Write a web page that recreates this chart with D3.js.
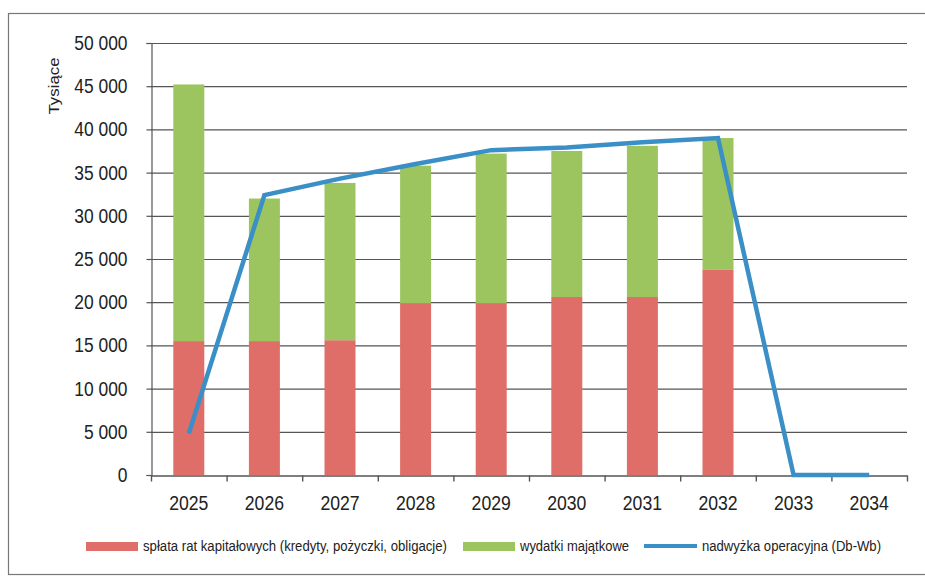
<!DOCTYPE html>
<html lang="pl">
<head>
<meta charset="utf-8">
<script src="https://cdn.jsdelivr.net/npm/d3@7"></script>
<style>
  html, body { margin: 0; padding: 0; background: #fff; }
  svg { display: block; }
  text { font-family: "Liberation Sans", Arial, sans-serif; fill: #222; }
</style>
</head>
<body>
<svg id="chart" width="925" height="578"></svg>
<script>
// Budget projection 2025–2034 (thousands of PLN)
const years = ["2025", "2026", "2027", "2028", "2029", "2030", "2031", "2032", "2033", "2034"];
const splata = [15500, 15500, 15600, 19900, 19900, 20600, 20600, 23800, 0, 0];
const wydatki = [29700, 16500, 18200, 15900, 17300, 16900, 17500, 15200, 0, 0];
const nadwyzka = [4800, 32400, 34300, 36000, 37600, 37900, 38500, 39000, 0, 0];
const yTicks = [0, 5000, 10000, 15000, 20000, 25000, 30000, 35000, 40000, 45000, 50000];
const seriesNames = [
  "spłata rat kapitałowych (kredyty, pożyczki, obligacje)",
  "wydatki majątkowe",
  "nadwyżka operacyjna (Db-Wb)"
];
const colors = ["#df6e69", "#9dc55f", "#3a8fc7"];

const svg = d3.select("#chart");
const plotLeft = 151, plotRight = 907, plotTop = 43, plotBottom = 475;

// narrow the glyphs horizontally (condensed look) keeping the anchor
function condense(sel, factor) {
  sel.each(function () {
    const w = this.getComputedTextLength();
    if (w > 0) {
      d3.select(this)
        .attr("textLength", (w * factor).toFixed(1))
        .attr("lengthAdjust", "spacingAndGlyphs");
    }
  });
}

// outer frame
svg.append("rect")
  .attr("x", 8.5).attr("y", 13.5)
  .attr("width", 940).attr("height", 561)
  .attr("fill", "none").attr("stroke", "#777").attr("stroke-width", 1.2);

const x = d3.scaleBand().domain(years).range([plotLeft, plotRight])
  .paddingInner(0.59).paddingOuter(0.295);
const y = d3.scaleLinear().domain([0, 50000]).range([plotBottom, plotTop]);
const edges = d3.scaleLinear().domain([0, years.length]).range([plotLeft, plotRight]);

const locale = d3.formatLocale({ thousands: " ", grouping: [3], decimal: ",", currency: ["", " zł"] });
const fmt = locale.format(",d");

// horizontal gridlines
svg.append("g")
  .selectAll("line")
  .data(yTicks.filter(v => v > 0))
  .join("line")
  .attr("x1", plotLeft).attr("x2", plotRight)
  .attr("y1", d => y(d) + 0.5).attr("y2", d => y(d) + 0.5)
  .attr("stroke", "#555").attr("stroke-width", 1.2);

// stacked bars
const stack = years.map((yr, i) => ({ yr, s: splata[i], w: wydatki[i] }));
const bars = svg.append("g");
bars.selectAll("rect.s")
  .data(stack.filter(d => d.s > 0))
  .join("rect").attr("class", "s")
  .attr("x", d => x(d.yr)).attr("width", x.bandwidth())
  .attr("y", d => y(d.s)).attr("height", d => y(0) - y(d.s))
  .attr("fill", colors[0]);
bars.selectAll("rect.w")
  .data(stack.filter(d => d.w > 0))
  .join("rect").attr("class", "w")
  .attr("x", d => x(d.yr)).attr("width", x.bandwidth())
  .attr("y", d => y(d.s + d.w)).attr("height", d => y(d.s) - y(d.s + d.w))
  .attr("fill", colors[1]);

// y axis
const yAxis = svg.append("g")
  .attr("transform", `translate(${plotLeft + 0.5},0)`)
  .call(d3.axisLeft(y).tickValues(yTicks).tickSize(5).tickPadding(19).tickFormat(fmt));
yAxis.select(".domain").attr("stroke", "#555").attr("stroke-width", 1.2);
yAxis.selectAll(".tick line").attr("stroke", "#555").attr("stroke-width", 1.2);
yAxis.selectAll(".tick text")
  .style("font-family", "\"Liberation Sans\", Arial, sans-serif")
  .attr("font-size", 20).attr("fill", "#222")
  .call(condense, 0.87);

// x axis: boundary ticks + centred year labels
const xEdges = svg.append("g")
  .attr("transform", `translate(0,${plotBottom + 0.5})`)
  .call(d3.axisBottom(edges).ticks(years.length).tickSizeInner(6).tickSizeOuter(0).tickFormat(""));
xEdges.select(".domain").attr("stroke", "#555").attr("stroke-width", 1.4);
xEdges.selectAll(".tick line").attr("stroke", "#555").attr("stroke-width", 1.4);

const xAxis = svg.append("g")
  .attr("transform", `translate(0,${plotBottom})`)
  .call(d3.axisBottom(x).tickSize(0).tickPadding(21));
xAxis.select(".domain").remove();
xAxis.selectAll(".tick text")
  .style("font-family", "\"Liberation Sans\", Arial, sans-serif")
  .attr("font-size", 20).attr("fill", "#222")
  .call(condense, 0.88);

// operating surplus line
const line = d3.line()
  .x((d, i) => x(years[i]) + x.bandwidth() / 2)
  .y(d => y(d));
svg.append("path")
  .datum(nadwyzka)
  .attr("d", line)
  .attr("fill", "none")
  .attr("stroke", colors[2])
  .attr("stroke-width", 4.5)
  .attr("stroke-linejoin", "miter");

// y-axis title
svg.append("text")
  .attr("transform", "translate(59,86) rotate(-90)")
  .attr("text-anchor", "middle")
  .attr("font-size", 15)
  .attr("textLength", 57).attr("lengthAdjust", "spacingAndGlyphs")
  .text("Tysiące");

// legend
const legend = svg.append("g").attr("font-size", 14);
const lg = [
  { x: 86, tx: 143, len: 304, type: "rect" },
  { x: 463, tx: 520, len: 109, type: "rect" },
  { x: 644, tx: 702, len: 179, type: "line" }
];
lg.forEach((d, i) => {
  if (d.type === "rect") {
    legend.append("rect").attr("x", d.x).attr("y", 542).attr("width", 52).attr("height", 9).attr("fill", colors[i]);
  } else {
    legend.append("line").attr("x1", d.x).attr("x2", d.x + 53).attr("y1", 546).attr("y2", 546)
      .attr("stroke", colors[i]).attr("stroke-width", 4);
  }
  legend.append("text").attr("x", d.tx).attr("y", 551)
    .attr("textLength", d.len).attr("lengthAdjust", "spacingAndGlyphs")
    .text(seriesNames[i]);
});
</script>
</body>
</html>
